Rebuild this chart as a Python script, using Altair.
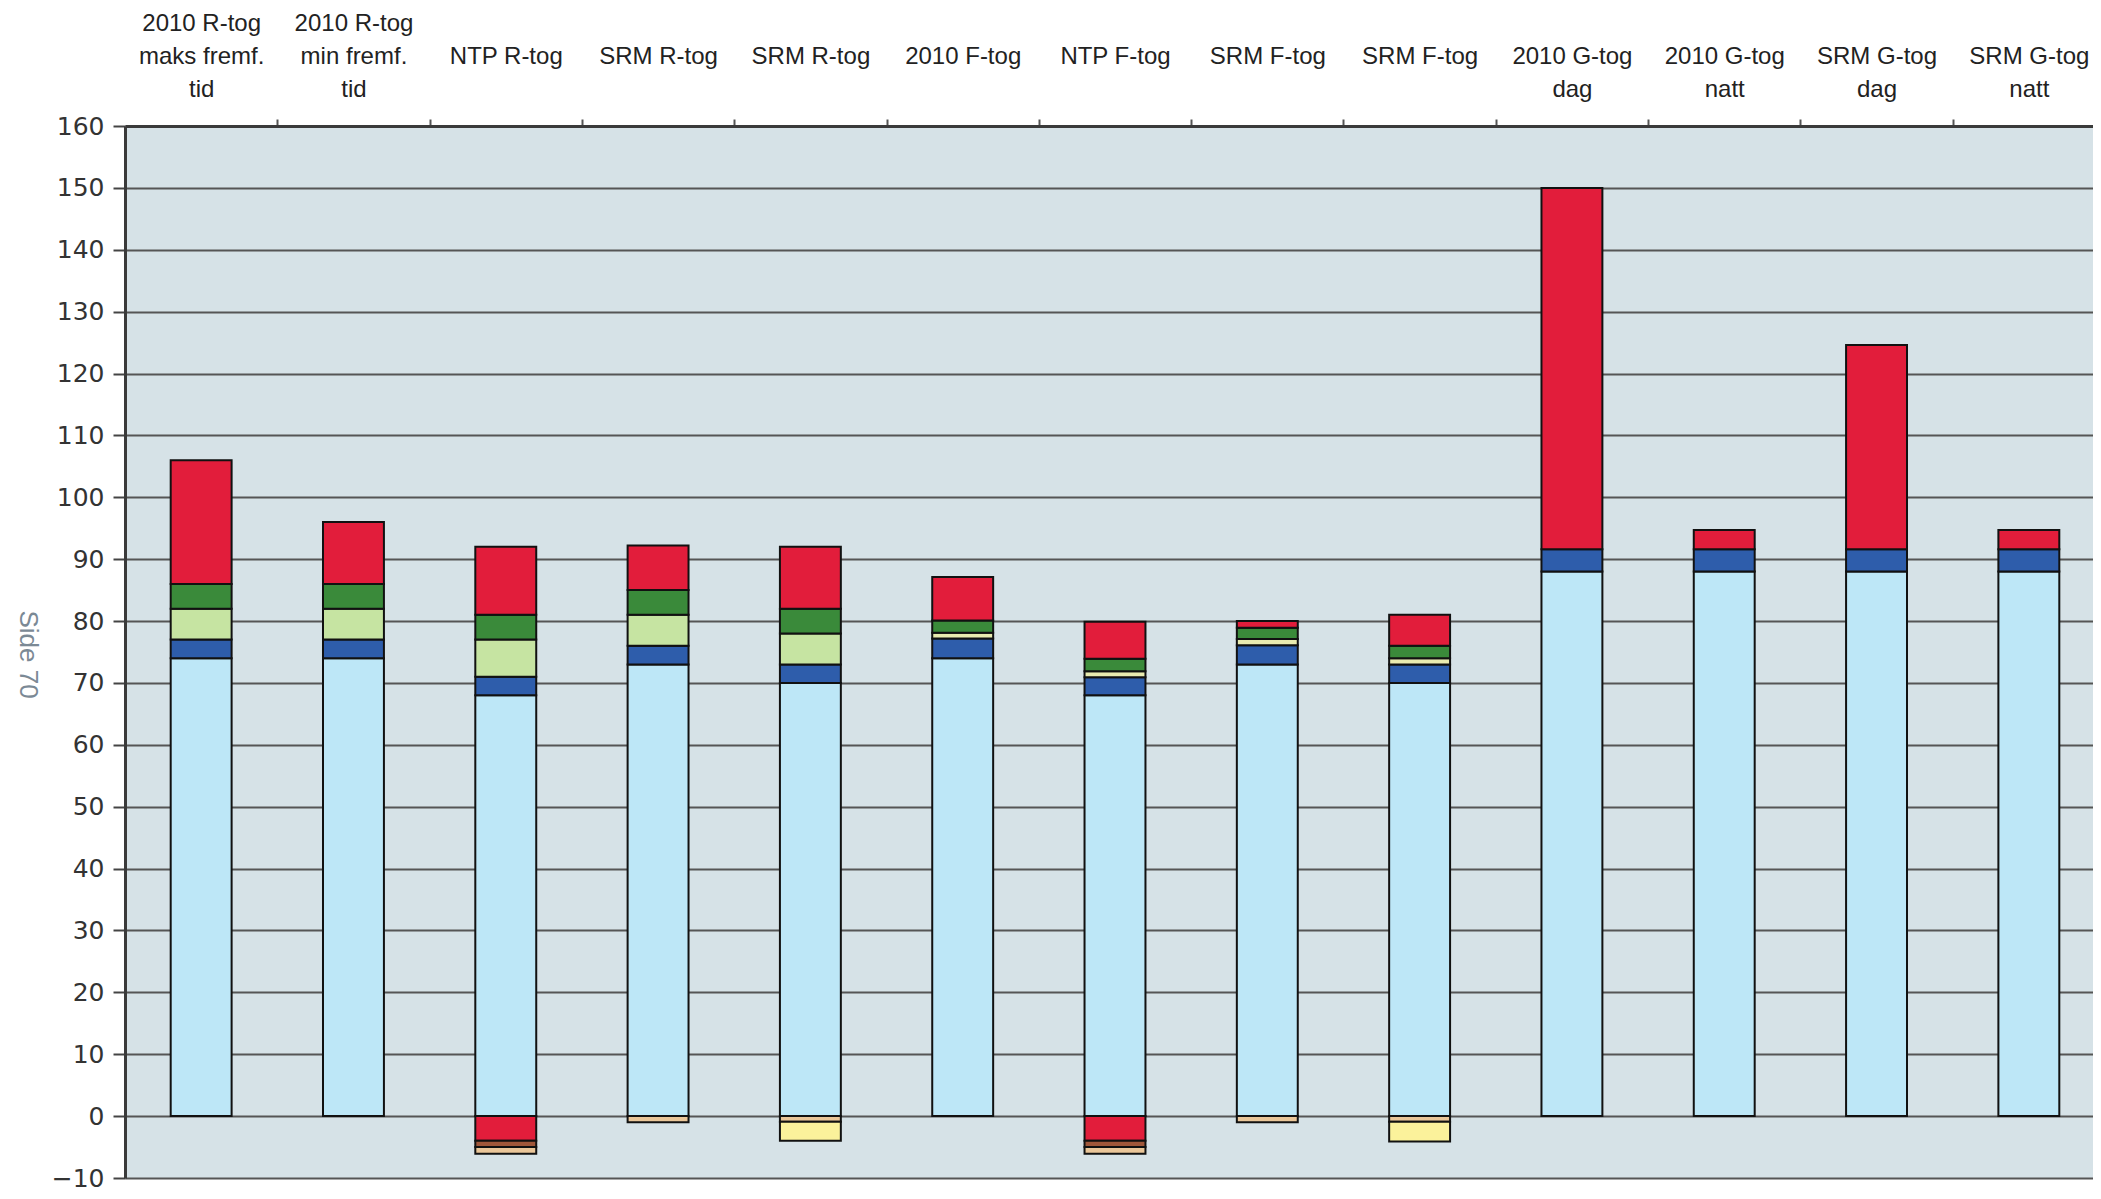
import json
import altair as alt
import pandas as pd

# ---- data ----
labels = [
    ["2010 R-tog", "maks fremf.", "tid"],
    ["2010 R-tog", "min fremf.", "tid"],
    ["NTP R-tog"],
    ["SRM R-tog"],
    ["SRM R-tog"],
    ["2010 F-tog"],
    ["NTP F-tog"],
    ["SRM F-tog"],
    ["SRM F-tog"],
    ["2010 G-tog", "dag"],
    ["2010 G-tog", "natt"],
    ["SRM G-tog", "dag"],
    ["SRM G-tog", "natt"],
]
light_blue = [74, 74, 68, 73, 70, 74, 68, 73, 70, 88, 88, 88, 88]
dark_blue = [3, 3, 3, 3, 3, 3.2, 2.9, 3.1, 3, 3.6, 3.6, 3.6, 3.6]
light_green = [5, 5, 6, 5, 5, 0, 0, 0, 0, 0, 0, 0, 0]
pale_yellow = [0, 0, 0, 0, 0, 0.9, 1, 1, 1, 0, 0, 0, 0]
dark_green = [4, 4, 4, 4, 4, 2, 2, 1.8, 2, 0, 0, 0, 0]
red = [20, 10, 11, 7.2, 10, 7, 6, 1.1, 5, 58.4, 3.1, 33, 3.1]
red_neg = [0, 0, -4, 0, 0, 0, -4, 0, 0, 0, 0, 0, 0]
brown_neg = [0, 0, -1, 0, 0, 0, -1, 0, 0, 0, 0, 0, 0]
tan_neg = [0, 0, -1.1, -1, -0.9, 0, -1.1, -1, -0.9, 0, 0, 0, 0]
yellow_neg = [0, 0, 0, 0, -3.1, 0, 0, 0, -3.2, 0, 0, 0, 0]

series = [
    ("lightblue", light_blue, 0, "#bde7f7"),
    ("blue", dark_blue, 1, "#2e5dab"),
    ("lightgreen", light_green, 2, "#c6e4a2"),
    ("paleyellow", pale_yellow, 3, "#e9ebb0"),
    ("darkgreen", dark_green, 4, "#3a8a3a"),
    ("red", red, 5, "#e21d3b"),
    ("red_neg", red_neg, 5, "#e21d3b"),
    ("brown", brown_neg, 6, "#a0573a"),
    ("tan", tan_neg, 7, "#eac699"),
    ("yellow", yellow_neg, 8, "#fbf29b"),
]

rows = []
for name, vals, order, _ in series:
    for i, v in enumerate(vals):
        if v != 0:
            rows.append({"cat": i, "series": name, "value": v, "ord": order})
df = pd.DataFrame(rows)

# pad labels to three lines so that the last line sits just above the axis
padded = [[""] * (3 - len(l)) + l for l in labels]
label_expr = json.dumps(padded, ensure_ascii=False) + "[datum.value]"

x_range = 1980
half_step = x_range / len(labels) / 2

chart = alt.Chart(df).mark_bar(stroke="#111111", strokeWidth=2).encode(
    x=alt.X(
        "cat:O",
        scale=alt.Scale(range=[0, x_range], paddingInner=0.6, paddingOuter=0.3),
        axis=alt.Axis(
            orient="top",
            title=None,
            labelExpr=label_expr,
            labelAngle=0,
            labelFont="Liberation Sans",
            labelFontSize=24,
            labelColor="#222222",
            labelLineHeight=33,
            labelBaseline="top",
            labelPadding=108,
            labelLimit=0,
            labelOverlap=False,
            tickOffset=half_step,
            labelOffset=-half_step,
            tickSize=7,
            tickColor="#555555",
            tickWidth=2,
            domainColor="#3a3a3a",
            domainWidth=3,
            grid=False,
        ),
    ),
    y=alt.Y(
        "value:Q",
        stack="zero",
        scale=alt.Scale(domain=[-10, 160], nice=False, zero=False),
        axis=alt.Axis(
            title="Side 70",
            values=list(range(-10, 170, 10)),
            labelFont="DejaVu Sans",
            labelFontSize=25,
            labelColor="#333333",
            labelPadding=9,
            tickSize=12,
            tickColor="#444444",
            tickWidth=2,
            domainColor="#3a3a3a",
            domainWidth=3,
            grid=True,
            gridColor="#555555",
            gridWidth=2,
            titleFont="Liberation Sans",
            titleFontSize=26,
            titleFontWeight="normal",
            titleColor="#7b8995",
            titleAngle=90,
            titleX=-98,
            titleY=528,
            titleAlign="center",
            titleBaseline="middle",
        ),
    ),
    color=alt.Color(
        "series:N",
        scale=alt.Scale(domain=[s[0] for s in series], range=[s[3] for s in series]),
        legend=None,
    ),
    order=alt.Order("ord:Q", sort="ascending"),
).properties(
    width=1968,
    height=1052,
    background="#ffffff",
    autosize=alt.AutoSizeParams(type="none"),
    padding={"left": 117, "top": 118, "right": 0, "bottom": 13},
).configure_view(
    fill="#d6e2e7", stroke="transparent"
)

chart.save("out.html", embed_options={"renderer": "svg", "actions": False})
